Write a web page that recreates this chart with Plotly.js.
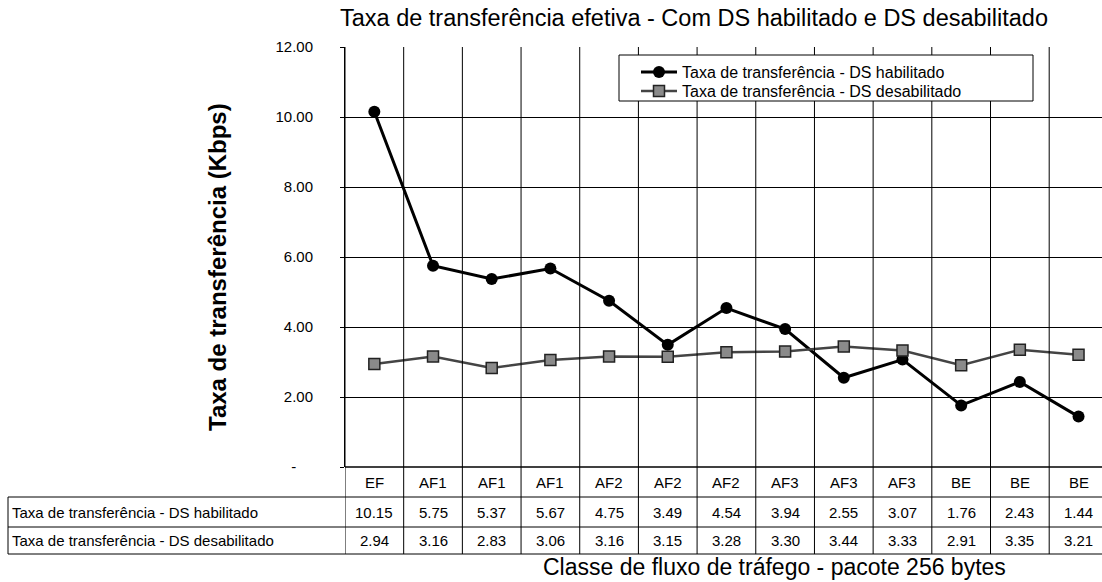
<!DOCTYPE html>
<html>
<head>
<meta charset="utf-8">
<script src="https://cdn.plot.ly/plotly-3.0.1.min.js"></script>
<style>html,body{margin:0;padding:0;background:#fff;}#chart{width:1102px;height:582px;}</style>
</head>
<body>
<div id="chart"></div>
<script>
const categories = ["EF","AF1","AF1","AF1","AF2","AF2","AF2","AF3","AF3","AF3","BE","BE","BE"];
const dsHabilitado = [10.15,5.75,5.37,5.67,4.75,3.49,4.54,3.94,2.55,3.07,1.76,2.43,1.44];
const dsDesabilitado = [2.94,3.16,2.83,3.06,3.16,3.15,3.28,3.30,3.44,3.33,2.91,3.35,3.21];
const seriesNames = ["Taxa de transferência - DS habilitado","Taxa de transferência - DS desabilitado"];
const yTickVals = [0,2,4,6,8,10,12];
const yTickText = ["-\u00a0\u00a0\u00a0\u00a0","2.00","4.00","6.00","8.00","10.00","12.00"];

const xIdx = categories.map((_, i) => i);
const FONT = "Liberation Sans, Arial, sans-serif";

// plot area: 420px high (y 47..467), 757px wide (x 345..1102)
const PH = 420, PW = 757;
const rowY = [0, -30/PH, -60/PH, -87/PH];   // top of categories row, row1, row2, bottom
const leftX = -337/PW;

const shapes = [];
for (let i = 0; i <= categories.length; i++) {
  const xv = i - 0.5;
  if (xv > 12.4) continue;
  shapes.push({type:"line", xref:"x", yref:"paper", x0:xv, x1:xv, y0:rowY[3], y1:1, line:{color:"#000", width:1}});
}
shapes.push({type:"line", xref:"paper", yref:"paper", x0:0, x1:1, y0:0, y1:0, line:{color:"#000", width:1.5}});
[rowY[1], rowY[2], rowY[3]].forEach(yv => {
  shapes.push({type:"line", xref:"paper", yref:"paper", x0:leftX, x1:1, y0:yv, y1:yv, line:{color:"#000", width:1}});
});
shapes.push({type:"line", xref:"paper", yref:"paper", x0:leftX, x1:leftX, y0:rowY[3], y1:rowY[1], line:{color:"#000", width:1}});
// legend frame
shapes.push({type:"rect", xref:"paper", yref:"paper", layer:"above",
  x0:(619-345)/PW, x1:(1033-345)/PW, y0:1-(101-47)/PH, y1:1-(55-47)/PH,
  fillcolor:"#fff", line:{color:"#000", width:1}});

const annotations = [];
const cellFont = {family: FONT, size: 15, color: "#000"};
categories.forEach((c, i) => {
  annotations.push({x:i, xref:"x", y:(rowY[0]+rowY[1])/2, yref:"paper", text:c, showarrow:false, font:cellFont, xanchor:"center", yanchor:"middle"});
  annotations.push({x:i, xref:"x", y:(rowY[1]+rowY[2])/2, yref:"paper", text:dsHabilitado[i].toFixed(2), showarrow:false, font:cellFont, xanchor:"center", yanchor:"middle"});
  annotations.push({x:i, xref:"x", y:(rowY[2]+rowY[3])/2, yref:"paper", text:dsDesabilitado[i].toFixed(2), showarrow:false, font:cellFont, xanchor:"center", yanchor:"middle"});
});
annotations.push({x:leftX+0.002, xref:"paper", y:(rowY[1]+rowY[2])/2, yref:"paper", text:seriesNames[0], showarrow:false, font:cellFont, xanchor:"left", yanchor:"middle"});
annotations.push({x:leftX+0.002, xref:"paper", y:(rowY[2]+rowY[3])/2, yref:"paper", text:seriesNames[1], showarrow:false, font:cellFont, xanchor:"left", yanchor:"middle"});
// axis titles
annotations.push({x:(774-345)/PW, xref:"paper", y:-(567-467)/PH, yref:"paper", text:"Classe de fluxo de tráfego - pacote 256 bytes",
  showarrow:false, font:{family:FONT, size:23, color:"#000"}, xanchor:"center", yanchor:"middle"});
annotations.push({x:(217-345)/PW, xref:"paper", y:1-(267-47)/PH, yref:"paper", text:"Taxa de transferência (Kbps)", textangle:-90,
  showarrow:false, font:{family:FONT, size:24, color:"#000", weight:"bold"}, xanchor:"center", yanchor:"middle"});

const traces = [
  {x: xIdx, y: dsHabilitado, name: seriesNames[0], type: "scatter", mode: "lines+markers", legend: "legend",
   line: {color: "#000", width: 3}, marker: {symbol: "circle", size: 12, color: "#000"}},
  {x: xIdx, y: dsDesabilitado, name: seriesNames[1], type: "scatter", mode: "lines+markers", legend: "legend2",
   line: {color: "#444", width: 2.5}, marker: {symbol: "square", size: 11, color: "#8a8a8a", line: {color: "#222", width: 1.5}}}
];

const legendBase = {xanchor: "left", yanchor: "top", bgcolor: "rgba(0,0,0,0)", borderwidth: 0,
  font: {family: FONT, size: 16, color: "#000"}, tracegroupgap: 0, itemwidth: 36};

const layout = {
  width: 1102, height: 582,
  margin: {l: 345, r: 0, t: 47, b: 115, autoexpand: false},
  paper_bgcolor: "#fff", plot_bgcolor: "#fff",
  font: {family: FONT, color: "#000"},
  title: {text: "Taxa de transferência efetiva - Com DS habilitado e DS desabilitado",
          font: {family: FONT, size: 23.5, color: "#000"}, x: 694/1102, xanchor: "center", xref: "container",
          y: 1 - 18/582, yanchor: "middle", yref: "container"},
  xaxis: {range: [-0.5, 12.4], showticklabels: false, showgrid: false, zeroline: false, showline: false,
          fixedrange: true, automargin: false},
  yaxis: {range: [0, 12], tickvals: yTickVals, ticktext: yTickText, showgrid: true, gridcolor: "#000", gridwidth: 1,
          zeroline: false, showline: true, linecolor: "#000", linewidth: 1, ticks: "outside", ticklen: 4, tickcolor: "#000",
          ticklabelstandoff: 24, tickfont: {family: FONT, size: 15, color: "#000"}, automargin: false},
  showlegend: true,
  legend: Object.assign({}, legendBase, {x: (636-345)/PW, y: 1-(55-47)/PH}),
  legend2: Object.assign({}, legendBase, {x: (636-345)/PW, y: 1-(74-47)/PH}),
  shapes: shapes,
  annotations: annotations
};

Plotly.newPlot("chart", traces, layout, {displayModeBar: false, staticPlot: true});
</script>
</body>
</html>
